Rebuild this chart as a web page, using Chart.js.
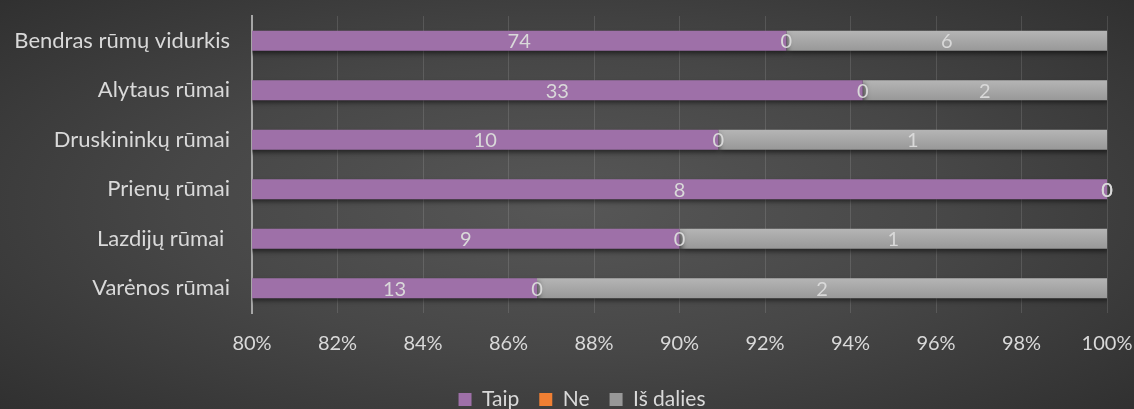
<!DOCTYPE html>
<html>
<head>
<meta charset="utf-8">
<script src="https://cdn.jsdelivr.net/npm/chart.js@4"></script>
<style>
  html, body { margin: 0; padding: 0; }
  body {
    width: 1134px; height: 409px; overflow: hidden;
    background: radial-gradient(ellipse 75% 80% at 50% 50%, #575757 0%, #474747 45%, #2c2c2c 100%);
  }
</style>
</head>
<body>
<canvas id="chart" width="1134" height="409"></canvas>
<script>
const categories = ['Bendras rūmų vidurkis', 'Alytaus rūmai', 'Druskininkų rūmai', 'Prienų rūmai', 'Lazdijų rūmai ', 'Varėnos rūmai'];
const taip = [74, 33, 10, 8, 9, 13];
const ne = [0, 0, 0, 0, 0, 0];
const isDalies = [6, 2, 1, 0, 1, 2];
const seriesNames = ['Taip', 'Ne', 'Iš dalies'];

const textColor = '#d9d9d9';
const fontFamily = 'Lato, "Open Sans", sans-serif';

// turn counts into shares of each row (100% stacked)
const totals = categories.map((c, i) => taip[i] + ne[i] + isDalies[i]);
const pct = arr => arr.map((v, i) => v / totals[i] * 100);

const counts = [taip, ne, isDalies];

const greyGradient = (context) => {
  const chart = context.chart;
  const yScale = chart.scales.y;
  if (!chart.chartArea || !yScale || context.dataIndex === undefined) return '#a6a6a6';
  const y = yScale.getPixelForValue(context.dataIndex);
  if (!isFinite(y)) return '#a6a6a6';
  const g = chart.ctx.createLinearGradient(0, y - 10, 0, y + 10);
  g.addColorStop(0, '#b5b5b5');
  g.addColorStop(1, '#989898');
  return g;
};

// labels in the middle of the visible part of each segment
const valueLabels = {
  id: 'valueLabels',
  afterDatasetsDraw(chart) {
    const ctx = chart.ctx;
    const area = chart.chartArea;
    ctx.save();
    ctx.font = '20px ' + fontFamily;
    ctx.fillStyle = textColor;
    ctx.textAlign = 'center';
    ctx.textBaseline = 'middle';
    chart.data.datasets.forEach((ds, di) => {
      chart.getDatasetMeta(di).data.forEach((bar, i) => {
        const left = Math.max(Math.min(bar.base, bar.x), area.left);
        const right = Math.min(Math.max(bar.base, bar.x), area.right);
        if (right < area.left) return;
        const cx = (left + right) / 2;
        ctx.fillText(String(counts[di][i]), cx, bar.y + 1);
      });
    });
    ctx.restore();
  }
};

// soft drop shadow under the bars
const barShadow = {
  id: 'barShadow',
  beforeDatasetsDraw(chart) {
    const ctx = chart.ctx;
    ctx.save();
    ctx.shadowColor = 'rgba(0,0,0,0.55)';
    ctx.shadowBlur = 5;
    ctx.shadowOffsetX = 2;
    ctx.shadowOffsetY = 3;
  },
  afterDatasetsDraw(chart) {
    chart.ctx.restore();
  }
};

// legend sits a little right of the canvas centre
const legendShift = {
  id: 'legendShift',
  beforeDraw(chart) {
    chart.legend.left = 57;
    chart.legend.right = 1107;
  }
};

new Chart(document.getElementById('chart'), {
  type: 'bar',
  data: {
    labels: categories,
    datasets: [
      { label: seriesNames[0], data: pct(taip), backgroundColor: '#9e70a8' },
      { label: seriesNames[1], data: pct(ne), backgroundColor: '#f07f33' },
      { label: seriesNames[2], data: pct(isDalies), backgroundColor: greyGradient }
    ]
  },
  options: {
    indexAxis: 'y',
    responsive: false,
    animation: false,
    devicePixelRatio: 1,
    barPercentage: 0.8,
    categoryPercentage: 0.5,
    layout: { padding: { top: 16, right: 27, left: 0, bottom: 0 } },
    scales: {
      x: {
        stacked: true,
        min: 80,
        max: 100,
        ticks: {
          stepSize: 2,
          color: textColor,
          font: { family: fontFamily, size: 20 },
          padding: 19,
          callback: v => v + '%'
        },
        grid: { color: 'rgba(255,255,255,0.12)', lineWidth: 1, tickLength: 0 },
        border: { display: false },
        afterFit: s => { s.height = 56; s.paddingLeft = 0; s.paddingRight = 0; }
      },
      y: {
        stacked: true,
        ticks: {
          color: textColor,
          font: { family: fontFamily, size: 22 },
          padding: 14
        },
        grid: { display: false },
        border: { display: true, color: '#a6a6a6', width: 2 },
        afterFit: s => { s.width = 252; s.paddingTop = 0; s.paddingBottom = 0; }
      }
    },
    plugins: {
      legend: {
        position: 'bottom',
        maxHeight: 40,
        labels: {
          color: textColor,
          font: { family: fontFamily, size: 21 },
          boxWidth: 13,
          boxHeight: 13,
          padding: 20
        }
      },
      tooltip: { enabled: false }
    }
  },
  plugins: [barShadow, valueLabels, legendShift]
});
</script>
</body>
</html>
